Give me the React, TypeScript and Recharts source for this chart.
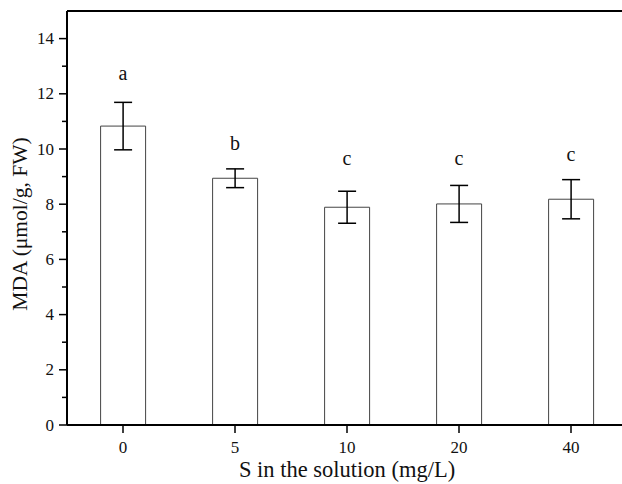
import React from 'react';
import { ComposedChart, Bar, ErrorBar, Scatter, XAxis, YAxis, ReferenceLine, Label } from 'recharts';

const categories = ['0', '5', '10', '20', '40'];
const mda = [10.83, 8.94, 7.89, 8.01, 8.18];
const errors = [0.86, 0.34, 0.58, 0.67, 0.71];
const letters = ['a', 'b', 'c', 'c', 'c'];
const letterPos = [12.49, 9.95, 9.43, 9.43, 9.56];
const yTicks = [0, 1, 2, 3, 4, 5, 6, 7, 8, 9, 10, 11, 12, 13, 14];

const data = categories.map((c, i) => ({
    s: c,
    mda: mda[i],
    err: errors[i],
    letter: letters[i],
    letterY: letterPos[i],
}));

const FONT = '"Liberation Serif", "Times New Roman", serif';

const YTick = (props: any) => {
    const { x, y, payload } = props;
    const major = payload.value % 2 === 0;
    return (
        <g>
            <line x1={x - (major ? 8 : 5)} x2={x} y1={y} y2={y} stroke="#000" strokeWidth={1.5} />
            {major && (
                <text x={x - 13} y={y} textAnchor="end" dominantBaseline="central" fontFamily={FONT} fontSize={17} fill="#111">
                    {payload.value}
                </text>
            )}
        </g>
    );
};

const LetterShape = (props: any) => {
    const { cx, cy, payload } = props;
    return (
        <text x={cx} y={cy} textAnchor="middle" fontFamily={FONT} fontSize={20} fill="#111">
            {payload.letter}
        </text>
    );
};

const YLabel = (props: any) => {
    const { viewBox } = props;
    const cx = viewBox.x + 13;
    const cy = viewBox.y + viewBox.height / 2 + 6;
    return (
        <text x={cx} y={cy} transform={`rotate(-90, ${cx}, ${cy})`} textAnchor="middle" dominantBaseline="central" fontFamily={FONT} fontSize={21.5} fill="#111">
            MDA (μmol/g, FW)
        </text>
    );
};

export default function App() {
    return (
        <div style={{ position: 'absolute', left: 0, top: 0, width: 622, height: 484, overflow: 'hidden', background: '#fff' }}>
            <ComposedChart width={640} height={484} data={data} margin={{ top: 11, right: 13, left: 7, bottom: 24 }} barCategoryGap="30%">
                <XAxis
                    dataKey="s"
                    height={35}
                    tickSize={8}
                    tickMargin={8}
                    axisLine={{ stroke: '#000', strokeWidth: 2 }}
                    tickLine={{ stroke: '#000', strokeWidth: 1.5 }}
                    tick={{ fontFamily: FONT, fontSize: 17, fill: '#111' }}
                >
                    <Label value="S in the solution (mg/L)" position="bottom" offset={1} style={{ fontFamily: FONT, fontSize: 22.5, fill: '#111' }} />
                </XAxis>
                <YAxis
                    width={60}
                    domain={[0, 15]}
                    ticks={yTicks}
                    interval={0}
                    tickSize={0}
                    tickMargin={0}
                    tickLine={false}
                    axisLine={{ stroke: '#000', strokeWidth: 2 }}
                    tick={<YTick />}
                    allowDataOverflow
                >
                    <Label content={<YLabel />} />
                </YAxis>
                <ReferenceLine y={15} stroke="#000" strokeWidth={2} />
                <Bar dataKey="mda" fill="#fff" stroke="#444" strokeWidth={1} isAnimationActive={false}>
                    <ErrorBar dataKey="err" width={9} stroke="#000" strokeWidth={1.5} />
                </Bar>
                <Scatter dataKey="letterY" shape={<LetterShape />} isAnimationActive={false} />
            </ComposedChart>
        </div>
    );
}
